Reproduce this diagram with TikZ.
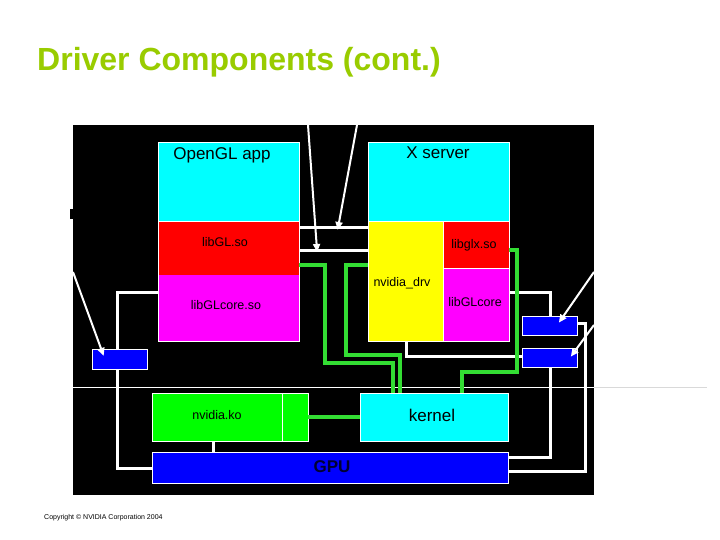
\documentclass[tikz,border=0pt]{standalone}
\usepackage{fontspec}
\setmainfont{Liberation Sans}
\usetikzlibrary{calc,arrows.meta}
\definecolor{titlegreen}{RGB}{153,204,0}
\definecolor{wiregreen}{RGB}{51,221,51}
\definecolor{boxcyan}{RGB}{0,255,255}
\definecolor{boxmag}{RGB}{255,0,255}
\definecolor{boxred}{RGB}{255,0,0}
\definecolor{boxyel}{RGB}{255,255,0}
\definecolor{boxgreen}{RGB}{0,255,0}
\definecolor{boxblue}{RGB}{0,0,255}
\tikzset{
  box/.style={draw=white, line width=0.7pt, inner sep=0pt, outer sep=0pt, anchor=north west},
  lbl/.style={inner sep=0pt, font=\fontsize{12.5}{14}\selectfont, text=black},
  biglbl/.style={inner sep=0pt, font=\fontsize{17}{20}\selectfont, text=black},
  wl/.style={draw=white, line width=3pt},
  gl/.style={draw=wiregreen, line width=3.5pt},
  pointer/.style={draw=white, line width=2pt, -{Triangle[length=8pt,width=7pt]}, shorten >=-2pt}
}
\begin{document}
\begin{tikzpicture}[x=1pt,y=-1pt]
\useasboundingbox (0,0) rectangle (720,540);
\fill[white] (0,0) rectangle (720,540);
% title
\node[anchor=base west, inner sep=0pt, text=titlegreen, font=\fontsize{32}{36}\selectfont\bfseries] (title) at (37,71) {Driver Components (cont.)};
% panel
\node[box, draw=none, fill=black, minimum width=521, minimum height=370] (panel) at (73,125) {};
\fill[black] (70,209) rectangle (73,219);
% boxes
\node[box, fill=boxcyan, minimum width=141, minimum height=79] (app) at (158,142) {};
\node[box, draw=none, fill=boxred, minimum width=141, minimum height=54] (libgl) at (158,221) {};
\node[box, draw=none, fill=boxmag, minimum width=141, minimum height=66] (glcore) at (158,275) {};
\draw[white, line width=0.7pt] (libgl.north west) rectangle (glcore.south east);
\node[box, fill=boxcyan, minimum width=141, minimum height=79] (xsrv) at (368,142) {};
\node[box, fill=boxyel, minimum width=75, minimum height=120] (drv) at (368,221) {};
\node[box, fill=boxred, minimum width=66, minimum height=47] (glx) at (443,221) {};
\node[box, fill=boxmag, minimum width=66, minimum height=73] (glcore2) at (443,268) {};
\node[box, fill=boxgreen, minimum width=156, minimum height=48] (ko) at (152,393) {};
\node[box, fill=boxcyan, minimum width=148, minimum height=48] (kernel) at (360,393) {};
\node[box, fill=boxblue, minimum width=356, minimum height=31] (gpu) at (152,452) {};
\node[box, fill=boxblue, minimum width=55, minimum height=20] (bl) at (92,349) {};
\node[box, fill=boxblue, minimum width=55, minimum height=19] (br1) at (522,316) {};
\node[box, fill=boxblue, minimum width=55, minimum height=19] (br2) at (522,348) {};
\draw[white, line width=0.7pt] ($(ko.north west)+(130,0)$) -- ($(ko.south west)+(130,0)$);
% separator line
\draw[white, line width=1pt] ($(panel.north west)+(0,262)$) -- ($(panel.north east)+(0,262)$);
\draw[black!15, line width=1pt] ($(panel.north east)+(0,262)$) -- ++(113,0);
% labels
\node[biglbl] (tapp) at (222,155) {OpenGL app};
\node[biglbl] (txsrv) at (438,153) {X server};
\node[lbl] (tlibgl) at (225,242) {libGL.so};
\node[lbl] (tglx) at (474,245) {libglx.so};
\node[lbl] (tglcore) at (226,305) {libGLcore.so};
\node[lbl] (tdrv) at (402,283) {nvidia\_drv};
\node[lbl] (tglcore2) at (475,302) {libGLcore};
\node[lbl] (tko) at (217,415) {nvidia.ko};
\node[biglbl] (tkernel) at (432,415) {kernel};
\node[inner sep=0pt, font=\fontsize{17}{20}\selectfont\bfseries, text={rgb,255:red,0;green,0;blue,50}] (tgpu) at (332,467) {GPU};
\node[anchor=base west, inner sep=0pt, font=\fontsize{7}{8}\selectfont] (copy) at (44,519) {Copyright © NVIDIA Corporation 2004};
% white connectors
\draw[wl] ($(glcore.north west)+(0,17)$) -| ($(bl.north west)+(25,0)$);
\draw[wl] ($(bl.south west)+(25,0)$) |- ($(gpu.north west)+(0,16)$);
\draw[wl] ($(ko.south west)+(61,0)$) -- ($(gpu.north west)+(61,0)$);
\draw[wl] ($(glcore2.north east)+(0,24)$) -| ($(br1.north west)+(28,0)$);
\draw[wl] ($(br1.north east)+(0,7)$) -- ++(8,0) |- ($(gpu.north east)+(0,19)$);
\draw[wl] ($(br2.south west)+(28,0)$) |- ($(gpu.north east)+(0,5)$);
\draw[wl] ($(drv.south west)+(38,0)$) |- ($(br2.north west)+(0,8)$);
\draw[wl] ($(libgl.north east)+(0,7)$) -- ($(drv.north west)+(0,7)$);
\draw[wl] ($(libgl.north east)+(0,29)$) -- ($(drv.north west)+(0,29)$);
% pointer arrows
\coordinate (p1) at (308,125);
\coordinate (p2) at (357,125);
\coordinate (p3) at (73,272);
\coordinate (p4) at (594,272);
\coordinate (p5) at (594,325);
\draw[pointer] (p1) -- ($(libgl.north east)+(18,29)$);
\draw[pointer] (p2) -- ($(libgl.north east)+(39,7)$);
\draw[pointer] (p3) -- ($(bl.north west)+(11,5)$);
\draw[pointer] (p4) -- ($(br1.north west)+(38,5)$);
\draw[pointer] (p5) -- ($(br2.north west)+(50,7)$);
% green connectors
\draw[gl] ($(libgl.north east)+(0,44)$) -| ++(26,98) -| ($(kernel.north west)+(33,0)$);
\draw[gl] ($(drv.north west)+(0,44)$) -| ++(-22,90) -| ($(kernel.north west)+(40,0)$);
\draw[gl] ($(glx.north east)+(0,29)$) -| ++(8,122) -| ($(kernel.north west)+(102,0)$);
\draw[gl] (ko.east) -- (kernel.west);
\end{tikzpicture}
\end{document}
